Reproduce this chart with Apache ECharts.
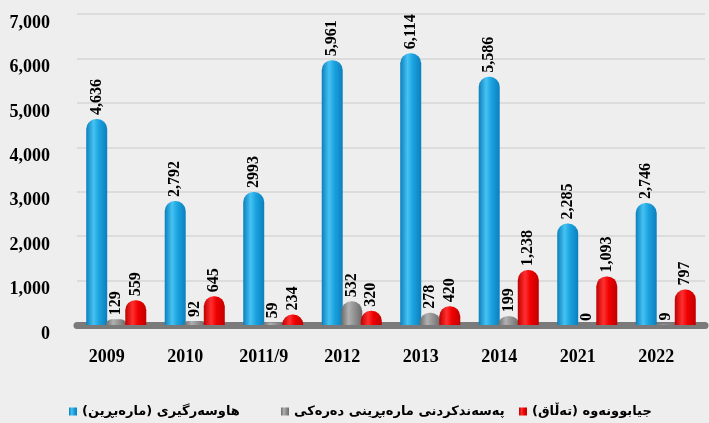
<!DOCTYPE html>
<html>
<head>
<meta charset="utf-8">
<script src="https://cdn.jsdelivr.net/npm/echarts@6/dist/echarts.min.js"></script>
<style>html,body{margin:0;padding:0;background:#eeeeee;}#c{width:709px;height:423px;}</style>
</head>
<body>
<div id="c"></div>
<script>
const categories = ['2009', '2010', '2011/9', '2012', '2013', '2014', '2021', '2022'];
const seriesNames = ['هاوسەرگیری (مارەبڕین)', 'پەسەندکردنی مارەبڕینی دەرەکی', 'جیابوونەوە (تەڵاق)'];
const marriage = [4636, 2792, 2993, 5961, 6114, 5586, 2285, 2746];
const foreignMarriage = [129, 92, 59, 532, 278, 199, 0, 9];
const divorce = [559, 645, 234, 320, 420, 1238, 1093, 797];
const yTicks = { min: 0, max: 7000, interval: 1000 };

function grad(edge, mid, light) {
  return new echarts.graphic.LinearGradient(0, 0, 1, 0, [
    { offset: 0, color: edge },
    { offset: 0.35, color: light },
    { offset: 0.6, color: mid },
    { offset: 1, color: edge }
  ]);
}
const serif = "'Liberation Serif', 'Times New Roman', serif";
function fmt(v) { return v.toLocaleString('en-US'); }

function mkSeries(name, data, color, idx) {
  return {
    name: name,
    type: 'bar',
    data: data,
    barWidth: 21,
    barGap: '-7%',
    itemStyle: { color: color, borderRadius: [10, 10, 0, 0] },
    label: {
      show: true,
      position: 'top',
      rotate: 90,
      align: 'left',
      verticalAlign: 'middle',
      distance: 4,
      color: '#000',
      fontFamily: serif,
      fontWeight: 'bold',
      fontSize: 16,
      formatter: function (p) {
        if (idx === 0 && p.dataIndex === 2) return String(p.value);
        return fmt(p.value);
      }
    }
  };
}

const legendText = { fontFamily: "'DejaVu Sans', sans-serif", fontWeight: 'bold', fontSize: 13, color: '#000' };
const legendLefts = [64, 276, 514];

const chart = echarts.init(document.getElementById('c'));
chart.setOption({
  backgroundColor: '#eeeeee',
  animation: false,
  grid: { left: 77, right: 4, top: 14, bottom: 98 },
  legend: seriesNames.map((n, i) => ({
    data: [{ name: n, icon: 'rect' }],
    left: legendLefts[i],
    top: 400,
    itemWidth: 8,
    itemHeight: 8,
    itemGap: 6,
    textStyle: legendText
  })),
  xAxis: {
    type: 'category',
    data: categories,
    axisTick: { show: false },
    axisLine: { show: true, lineStyle: { color: '#7a7a7a', width: 7 } },
    axisLabel: {
      color: '#000',
      fontFamily: serif,
      fontWeight: 'bold',
      fontSize: 18,
      margin: 23,
      padding: [0, 19, 0, 0]
    }
  },
  yAxis: {
    type: 'value',
    min: yTicks.min,
    max: yTicks.max,
    interval: yTicks.interval,
    axisLine: { show: false },
    axisTick: { show: false },
    splitLine: { lineStyle: { color: '#d6d6d6', width: 1.5 } },
    axisLabel: {
      color: '#000',
      fontFamily: serif,
      fontWeight: 'bold',
      fontSize: 18,
      margin: 27,
      verticalAlign: 'top',
      formatter: function (v) { return fmt(v); }
    }
  },
  series: [
    mkSeries(seriesNames[0], marriage, grad('#0c7fbd', '#1ba3e0', '#45c2f2'), 0),
    mkSeries(seriesNames[1], foreignMarriage, grad('#6a6a6a', '#959595', '#b0b0b0'), 1),
    mkSeries(seriesNames[2], divorce, grad('#c00000', '#f00000', '#ff3030'), 2)
  ]
});
</script>
</body>
</html>
